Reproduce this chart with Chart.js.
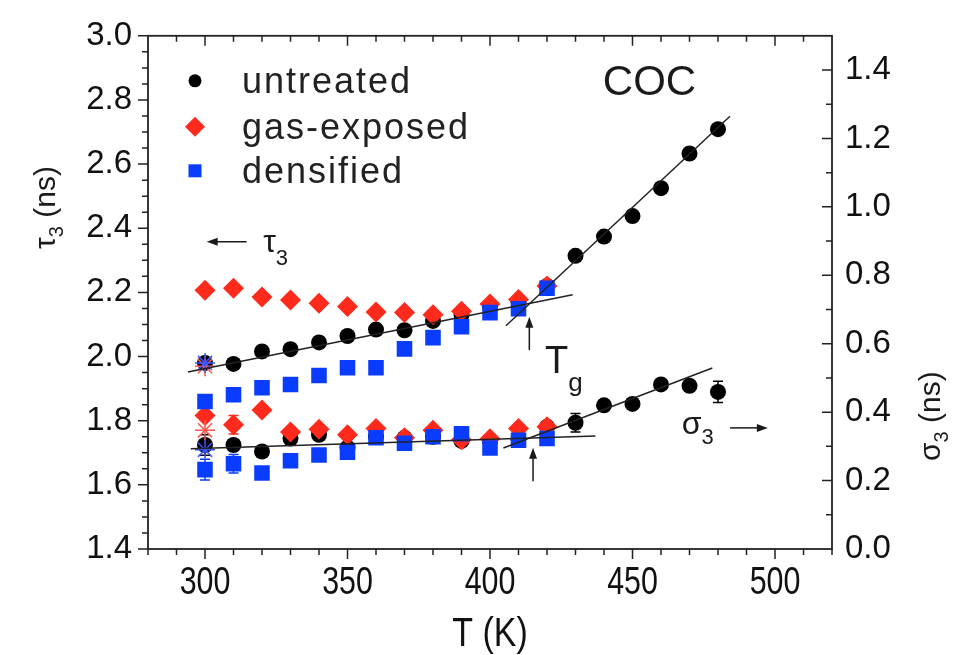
<!DOCTYPE html>
<html>
<head>
<meta charset="utf-8">
<script src="https://cdn.jsdelivr.net/npm/chart.js@4"></script>
<style>
  html, body { margin: 0; padding: 0; background: #fff; }
  #wrap { width: 955px; height: 655px; }
</style>
</head>
<body>
<div id="wrap"><canvas id="chart" width="955" height="655"></canvas></div>
<script>
// temperatures (K)
const temps = [300, 310, 320, 330, 340, 350, 360, 370, 380, 390, 400, 410, 420];
const tempsLong = [300, 310, 320, 330, 340, 350, 360, 370, 380, 390, 400, 410, 420, 430, 440, 450, 460, 470, 480];
const xTickLabels = [300, 350, 400, 450, 500];

// tau3 (ns), left axis
const tauUntreated = [1.98, 1.977, 2.016, 2.023, 2.044, 2.064, 2.084, 2.082, 2.111, 2.13, 2.155, 2.17, 2.22, 2.314, 2.374, 2.438, 2.525, 2.633, 2.709];
const tauGas = [2.207, 2.213, 2.186, 2.176, 2.166, 2.156, 2.139, 2.137, 2.13, 2.141, 2.164, 2.178, 2.22];
const tauDens = [1.86, 1.881, 1.903, 1.913, 1.941, 1.965, 1.965, 2.024, 2.059, 2.093, 2.137, 2.149, 2.213];

// sigma3 (ns), right axis
const sigUntreated = [0.304, 0.304, 0.285, 0.323, 0.334, 0.296, 0.328, 0.325, 0.328, 0.316, 0.316, 0.32, 0.357, 0.369, 0.42, 0.424, 0.481, 0.477, 0.459];
const sigGas = [0.39, 0.363, 0.406, 0.342, 0.35, 0.334, 0.352, 0.325, 0.347, 0.319, 0.322, 0.352, 0.357];
const sigDens = [0.232, 0.249, 0.222, 0.258, 0.275, 0.283, 0.325, 0.309, 0.328, 0.337, 0.295, 0.318, 0.323];

// error bars on sigma3 (0 = none)
const sigUntreatedErr = [0.03, 0, 0, 0, 0, 0, 0, 0, 0, 0, 0, 0, 0, 0.027, 0, 0, 0, 0, 0.031];
const sigGasErr = [0, 0.027, 0, 0, 0, 0, 0, 0, 0, 0, 0, 0, 0];
const sigDensErr = [0.03, 0.027, 0, 0, 0, 0, 0, 0, 0, 0, 0, 0, 0];

// extra star points at 300 K
const starT = [300];
const tauStarGas = [1.97];
const tauStarDens = [1.98];
const sigStarGas = [0.347];
const sigStarDens = [0.29];

// linear fits [T, value]
const tauFitLow = [[294, 1.952], [429, 2.193]];
const tauFitHigh = [[405.6, 2.096], [484.2, 2.749]];
const sigFitLow = [[295, 0.293], [437, 0.33]];
const sigFitHigh = [[404.7, 0.295], [478, 0.529]];

const RED = '#ff2a1c';
const BLUE = '#0a3cff';
const BLACK = '#000000';

function pts(xs, ys) { return xs.map((x, i) => ({ x: x, y: ys[i] })); }
function fit(a) { return a.map(p => ({ x: p[0], y: p[1] })); }

function marks(label, xs, ys, axis, style, color, r, order) {
  return { type: 'scatter', label: label, data: pts(xs, ys), yAxisID: axis, pointStyle: style,
    pointRadius: r, backgroundColor: color, borderColor: color, borderWidth: 0, order: order };
}
function star(xs, ys, axis, color) {
  return { type: 'scatter', data: pts(xs, ys), yAxisID: axis, pointStyle: 'star', pointRadius: 10,
    backgroundColor: color, borderColor: color, borderWidth: 1.5, order: 0 };
}
function fitLine(a, axis) {
  return { type: 'line', data: fit(a), yAxisID: axis, borderColor: '#222', borderWidth: 1.5,
    pointRadius: 0, fill: false, order: -1 };
}

const errorSets = [
  { xs: tempsLong, ys: sigUntreated, err: sigUntreatedErr, color: BLACK },
  { xs: temps, ys: sigGas, err: sigGasErr, color: RED },
  { xs: temps, ys: sigDens, err: sigDensErr, color: BLUE }
];

const FONT = '"Liberation Sans", Arial, sans-serif';

function subText(ctx, main, sub, x, y, size, subSize, drop) {
  ctx.font = size + 'px ' + FONT;
  const w1 = ctx.measureText(main).width;
  ctx.textAlign = 'left';
  ctx.textBaseline = 'alphabetic';
  ctx.fillText(main, x, y);
  ctx.font = subSize + 'px ' + FONT;
  ctx.fillText(sub, x + w1, y + drop);
  return x + w1 + ctx.measureText(sub).width;
}

function arrow(ctx, x1, y1, x2, y2) {
  const a = Math.atan2(y2 - y1, x2 - x1);
  ctx.beginPath();
  ctx.moveTo(x1, y1);
  ctx.lineTo(x2 - 8 * Math.cos(a), y2 - 8 * Math.sin(a));
  ctx.stroke();
  ctx.beginPath();
  ctx.moveTo(x2, y2);
  ctx.lineTo(x2 - 11 * Math.cos(a) + 4 * Math.sin(a), y2 - 11 * Math.sin(a) - 4 * Math.cos(a));
  ctx.lineTo(x2 - 11 * Math.cos(a) - 4 * Math.sin(a), y2 - 11 * Math.sin(a) + 4 * Math.cos(a));
  ctx.closePath();
  ctx.fill();
}

const decor = {
  id: 'decor',
  beforeDatasetsDraw(chart) {
    const ctx = chart.ctx, xs = chart.scales.x, yr = chart.scales.yR;
    ctx.save();
    ctx.lineWidth = 1.5;
    errorSets.forEach(s => {
      ctx.strokeStyle = s.color;
      s.xs.forEach((t, i) => {
        const e = s.err[i];
        if (!e) return;
        const px = xs.getPixelForValue(t);
        const top = yr.getPixelForValue(s.ys[i] + e);
        const bot = yr.getPixelForValue(s.ys[i] - e);
        ctx.beginPath();
        ctx.moveTo(px, top); ctx.lineTo(px, bot);
        ctx.moveTo(px - 5, top); ctx.lineTo(px + 5, top);
        ctx.moveTo(px - 5, bot); ctx.lineTo(px + 5, bot);
        ctx.stroke();
      });
    });
    ctx.restore();
  },
  afterDraw(chart) {
    const ctx = chart.ctx, a = chart.chartArea;
    const xs = chart.scales.x, yl = chart.scales.yL, yr = chart.scales.yR;
    ctx.save();
    // frame
    ctx.strokeStyle = '#222';
    ctx.lineWidth = 1.8;
    ctx.strokeRect(a.left, a.top, a.right - a.left, a.bottom - a.top);
    // ticks
    ctx.lineWidth = 1.5;
    ctx.beginPath();
    for (let k = 0; k <= 32; k++) {
      const y = yl.getPixelForValue(1.4 + 0.05 * k);
      const len = k % 4 === 0 ? 10 : 6;
      ctx.moveTo(a.left - len, y); ctx.lineTo(a.left, y);
    }
    for (let k = 1; k < 15; k++) {
      const y = yr.getPixelForValue(0.1 * k);
      const len = k % 2 === 0 ? 10 : 6;
      ctx.moveTo(a.right - len, y); ctx.lineTo(a.right, y);
    }
    for (let k = 0; k <= 24; k++) {
      const v = 280 + 10 * k;
      const x = xs.getPixelForValue(v);
      const len = v % 50 === 0 ? 10 : 6;
      ctx.moveTo(x, a.bottom); ctx.lineTo(x, a.bottom + len);
      if (k > 0 && k < 24) { ctx.moveTo(x, a.top); ctx.lineTo(x, a.top + len); }
    }
    ctx.stroke();

    // x tick labels and title, condensed like the original
    ctx.fillStyle = '#111';
    ctx.textAlign = 'center';
    ctx.textBaseline = 'alphabetic';
    ctx.font = '38px ' + FONT;
    xTickLabels.forEach(v => {
      ctx.save();
      ctx.translate(xs.getPixelForValue(v), a.bottom + 45);
      ctx.scale(0.8, 1);
      ctx.fillText(String(v), 0, 0);
      ctx.restore();
    });
    ctx.save();
    ctx.translate(490, 646);
    ctx.scale(0.85, 1);
    ctx.font = '40px ' + FONT;
    ctx.fillText('T (K)', 0, 0);
    ctx.restore();

    ctx.fillStyle = '#1a1a1a';
    ctx.strokeStyle = '#1a1a1a';
    // y axis titles
    ctx.save();
    ctx.translate(45, 193);
    ctx.rotate(-Math.PI / 2);
    let end = subText(ctx, 'τ', '3', -56, 10, 30, 20, 8);
    ctx.font = '30px ' + FONT;
    ctx.fillText(' (ns)', end, 10);
    ctx.restore();
    ctx.save();
    ctx.translate(930, 403);
    ctx.rotate(-Math.PI / 2);
    end = subText(ctx, 'σ', '3', -58, 10, 30, 20, 8);
    ctx.font = '30px ' + FONT;
    ctx.fillText(' (ns)', end, 10);
    ctx.restore();

    // annotations
    ctx.lineWidth = 1.5;
    arrow(ctx, xs.getPixelForValue(314.6), yl.getPixelForValue(2.358), xs.getPixelForValue(300.6), yl.getPixelForValue(2.358));
    subText(ctx, 'τ', '3', xs.getPixelForValue(320.4), yl.getPixelForValue(2.327), 32, 22, 13);
    arrow(ctx, xs.getPixelForValue(413.8), yl.getPixelForValue(2.02), xs.getPixelForValue(413.8), yl.getPixelForValue(2.124));
    subText(ctx, 'T', 'g', xs.getPixelForValue(419.3), yl.getPixelForValue(1.949), 38, 26, 18);
    arrow(ctx, xs.getPixelForValue(415.1), yr.getPixelForValue(0.198), xs.getPixelForValue(415.1), yr.getPixelForValue(0.296));
    subText(ctx, 'σ', '3', xs.getPixelForValue(467.3), yr.getPixelForValue(0.337), 32, 22, 10);
    arrow(ctx, xs.getPixelForValue(484.2), yr.getPixelForValue(0.354), xs.getPixelForValue(497.5), yr.getPixelForValue(0.354));
    ctx.font = '42px ' + FONT;
    ctx.textAlign = 'left';
    ctx.fillText('COC', xs.getPixelForValue(439.6), yl.getPixelForValue(2.814));

    // legend
    const lx = a.left + 47, tx = a.left + 94;
    const rows = [a.top + 45, a.top + 91, a.top + 135];
    ctx.fillStyle = BLACK;
    ctx.beginPath(); ctx.arc(lx, rows[0], 6.5, 0, Math.PI * 2); ctx.fill();
    ctx.fillStyle = RED;
    ctx.beginPath();
    ctx.moveTo(lx - 10, rows[1]); ctx.lineTo(lx, rows[1] - 10); ctx.lineTo(lx + 10, rows[1]); ctx.lineTo(lx, rows[1] + 10);
    ctx.closePath(); ctx.fill();
    ctx.fillStyle = BLUE;
    ctx.fillRect(lx - 6.5, rows[2] - 6.5, 13, 13);
    ctx.fillStyle = '#222';
    ctx.font = '36px ' + FONT;
    ctx.letterSpacing = '2px';
    ctx.textBaseline = 'alphabetic';
    ['untreated', 'gas-exposed', 'densified'].forEach((t, i) => ctx.fillText(t, tx, rows[i] + 12));
    ctx.restore();
  }
};

const tickFont = { family: FONT, size: 33 };

new Chart(document.getElementById('chart'), {
  data: {
    datasets: [
      fitLine(tauFitLow, 'yL'), fitLine(tauFitHigh, 'yL'), fitLine(sigFitLow, 'yR'), fitLine(sigFitHigh, 'yR'),
      star(starT, tauStarDens, 'yL', '#3a55ff'), star(starT, tauStarGas, 'yL', '#ff5a50'),
      star(starT, sigStarDens, 'yR', '#3a55ff'), star(starT, sigStarGas, 'yR', '#ff5a50'),
      marks('densified', temps, tauDens, 'yL', 'rect', BLUE, 11, 1),
      marks('densified', temps, sigDens, 'yR', 'rect', BLUE, 11, 1),
      marks('gas-exposed', temps, tauGas, 'yL', 'rectRot', RED, 10.5, 2),
      marks('gas-exposed', temps, sigGas, 'yR', 'rectRot', RED, 10.5, 2),
      marks('untreated', tempsLong, tauUntreated, 'yL', 'circle', BLACK, 8, 3),
      marks('untreated', tempsLong, sigUntreated, 'yR', 'circle', BLACK, 8, 3)
    ]
  },
  options: {
    responsive: false,
    animation: false,
    layout: { padding: { top: 27, left: 0, right: 0, bottom: 0 } },
    plugins: { legend: { display: false }, tooltip: { enabled: false } },
    scales: {
      x: {
        type: 'linear', position: 'bottom', min: 280, max: 520,
        grid: { display: false, drawTicks: false }, border: { display: false },
        ticks: { display: false, stepSize: 10 },
        afterFit: s => { s.height = 106; }
      },
      yL: {
        type: 'linear', position: 'left', min: 1.4, max: 3.0,
        grid: { display: false, drawTicks: false }, border: { display: false },
        ticks: { stepSize: 0.2, padding: 16, color: '#111', font: tickFont, callback: v => v.toFixed(1) },
        afterFit: s => { s.width = 148; }
      },
      yR: {
        type: 'linear', position: 'right', min: 0, max: 1.5,
        grid: { display: false, drawTicks: false }, border: { display: false },
        ticks: { stepSize: 0.2, includeBounds: false, padding: 13, color: '#111', font: tickFont, callback: v => v.toFixed(1) },
        afterFit: s => { s.width = 123; }
      }
    }
  },
  plugins: [decor]
});
</script>
</body>
</html>
